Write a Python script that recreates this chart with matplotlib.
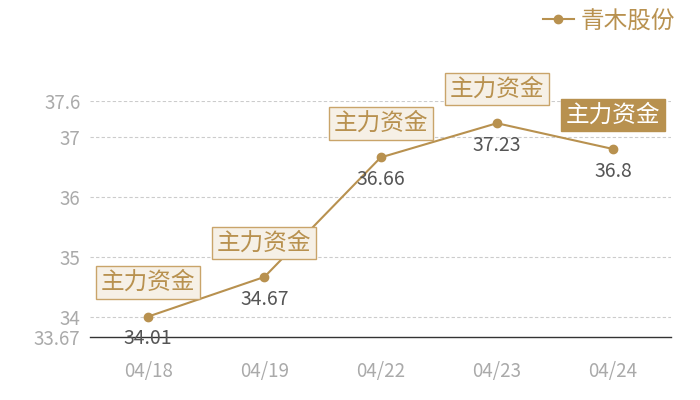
import matplotlib
matplotlib.use("Agg")
import matplotlib.pyplot as plt

plt.rcParams['font.family'] = ['Noto Sans CJK SC', 'DejaVu Sans']

dates = ["04/18", "04/19", "04/22", "04/23", "04/24"]
prices = [34.01, 34.67, 36.66, 37.23, 36.8]
tag_text = "主力资金"
highlight = 4   # last tag is drawn filled
yticks = [33.67, 34, 35, 36, 37, 37.6]
series_name = "青木股份"

gold = "#b8914f"

fig = plt.figure(figsize=(7, 4), dpi=100)
ax = fig.add_axes([0.1286, 0.1575, 0.8304, 0.59])

x = list(range(len(dates)))
ax.plot(x, prices, color=gold, lw=1.5, marker="o", ms=6, label=series_name, zorder=3)

for i, v in enumerate(prices):
    ax.annotate(str(v), (i, v), xytext=(0, -16), textcoords="offset points",
                ha="center", va="center", fontsize=14, color="#555555", zorder=4)
    if i == highlight:
        box = dict(boxstyle="square,pad=0.2", fc=gold, ec=gold, lw=1)
        tc = "white"
    else:
        box = dict(boxstyle="square,pad=0.2", fc="#f6f0e6", ec="#c9a46a", lw=1)
        tc = gold
    ax.annotate(tag_text, (i, v), xytext=(0, 24.5), textcoords="offset points",
                ha="center", va="center", fontsize=17, color=tc, bbox=box,
                annotation_clip=False, zorder=5)

ax.set_xlim(-0.5, len(dates) - 0.5)
ax.set_ylim(33.67, 37.6)
ax.set_xticks(x)
ax.set_xticklabels(dates)
ax.set_yticks(yticks)
ax.set_yticklabels([str(t) for t in yticks])
ax.tick_params(length=0, colors="#aaaaaa", labelsize=13.5)
ax.tick_params(axis="x", pad=17)
ax.tick_params(axis="y", pad=7)

for t in yticks[1:]:
    ax.axhline(t, color="#cccccc", lw=0.8, ls=(0, (3, 2)), zorder=1)

for s in ["top", "right", "left"]:
    ax.spines[s].set_visible(False)
ax.spines["bottom"].set_color("#333333")
ax.spines["bottom"].set_linewidth(1)

leg = fig.legend(loc="upper right", bbox_to_anchor=(0.995, 1.03), frameon=False,
                 fontsize=17, handlelength=1.3, handletextpad=0.3)
for t in leg.get_texts():
    t.set_color(gold)

fig.savefig("out.png", dpi=100)
